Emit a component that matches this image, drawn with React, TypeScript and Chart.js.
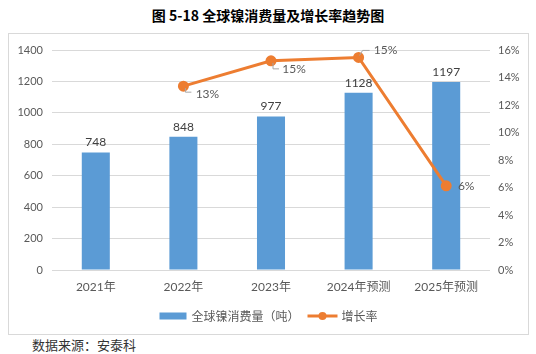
import React, { useEffect, useRef } from "react";
import { Chart, registerables } from "chart.js";

Chart.register(...registerables);

const categories = ["2021年", "2022年", "2023年", "2024年预测", "2025年预测"];
const consumption = [748, 848, 977, 1128, 1197];
const growthRate = [null, 13.37, 15.21, 15.46, 6.12];
const leftTicks = [0, 200, 400, 600, 800, 1000, 1200, 1400];
const rightTicks = [0, 2, 4, 6, 8, 10, 12, 14, 16];
const barLabel = "全球镍消费量（吨）";
const lineLabel = "增长率";
const title = "图 5-18 全球镍消费量及增长率趋势图";
const source = "数据来源：安泰科";

const BAR = "#5B9BD5";
const LINE = "#ED7D31";
const TXT = "#595959";
const FONT = "Lato, 'Noto Sans CJK SC', sans-serif";
const CJK = "'Noto Sans CJK SC', sans-serif";

// label offsets relative to point: [labelDx, labelDy, leader polyline]
const lineLabelPos: [number, number, number[][]][] = [
  [0, 0, []],
  [24, 8, [[2, 2], [2, 6], [8, 6]]],
  [23, 8, [[2, 2], [2, 8], [8, 8]]],
  [27, -7, [[1, -2], [4, -7], [11, -7]]],
  [20, 0, []],
];

const labelsPlugin = {
  id: "customLabels",
  afterDatasetsDraw(chart: any) {
    const ctx = chart.ctx;
    ctx.save();
    const barMeta = chart.getDatasetMeta(0);
    ctx.font = "12px " + FONT;
    ctx.fillStyle = "#404040";
    ctx.textAlign = "center";
    ctx.textBaseline = "middle";
    barMeta.data.forEach((el: any, i: number) => {
      ctx.fillText(String(consumption[i]), el.x, el.y - 10);
    });
    const lineMeta = chart.getDatasetMeta(1);
    lineMeta.data.forEach((el: any, i: number) => {
      const v = growthRate[i];
      if (v == null) return;
      const [dx, dy, leader] = lineLabelPos[i];
      if (leader.length) {
        ctx.strokeStyle = "#a6a6a6";
        ctx.lineWidth = 1;
        ctx.beginPath();
        leader.forEach((p, k) => {
          if (k === 0) ctx.moveTo(el.x + p[0], el.y + p[1]);
          else ctx.lineTo(el.x + p[0], el.y + p[1]);
        });
        ctx.stroke();
      }
      ctx.fillStyle = TXT;
      ctx.fillText(Math.round(v) + "%", el.x + dx, el.y + dy);
    });
    ctx.restore();
  },
  afterDraw(chart: any) {
    const ctx = chart.ctx;
    ctx.save();
    ctx.font = "12px " + CJK;
    ctx.textBaseline = "middle";
    ctx.textAlign = "left";
    const w1 = ctx.measureText(barLabel).width;
    const w2 = ctx.measureText(lineLabel).width;
    const total = 27 + 5 + w1 + 8 + 30 + 4 + w2;
    let x = chart.width / 2 - total / 2;
    const y = 282;
    ctx.fillStyle = BAR;
    ctx.fillRect(x, y - 3.5, 27, 7);
    x += 32;
    ctx.fillStyle = TXT;
    ctx.fillText(barLabel, x, y);
    x += w1 + 8;
    ctx.strokeStyle = LINE;
    ctx.lineWidth = 3;
    ctx.beginPath();
    ctx.moveTo(x, y);
    ctx.lineTo(x + 30, y);
    ctx.stroke();
    ctx.fillStyle = LINE;
    ctx.beginPath();
    ctx.arc(x + 15, y, 4, 0, Math.PI * 2);
    ctx.fill();
    x += 34;
    ctx.fillStyle = TXT;
    ctx.fillText(lineLabel, x, y);
    ctx.restore();
  },
};

export default function App() {
  const ref = useRef<HTMLCanvasElement>(null);
  useEffect(() => {
    if (!ref.current) return;
    const chart = new Chart(ref.current, {
      type: "bar",
      data: {
        labels: categories,
        datasets: [
          {
            type: "bar",
            label: barLabel,
            data: consumption,
            backgroundColor: BAR,
            yAxisID: "y",
            barPercentage: 0.32,
            categoryPercentage: 1,
            order: 2,
          },
          {
            type: "line",
            label: lineLabel,
            data: growthRate as any,
            borderColor: LINE,
            backgroundColor: LINE,
            borderWidth: 3,
            pointRadius: 4,
            pointBackgroundColor: LINE,
            pointBorderColor: LINE,
            yAxisID: "y1",
            order: 1,
            tension: 0,
          },
        ],
      },
      options: {
        responsive: false,
        animation: false,
        devicePixelRatio: 1,
        layout: { padding: { top: 16, bottom: 38, left: 0, right: 0 } },
        plugins: {
          legend: { display: false },
          tooltip: { enabled: false },
          title: { display: false },
        },
        scales: {
          x: {
            grid: { display: false, drawTicks: false },
            border: { display: false },
            ticks: { color: TXT, font: { family: FONT, size: 12 }, padding: 10 },
            afterFit: (s: any) => { s.height = 26; },
          },
          y: {
            position: "left",
            min: 0,
            max: 1400,
            afterBuildTicks: (s: any) => { s.ticks = leftTicks.map((v) => ({ value: v })); },
            grid: { color: "#d9d9d9", drawTicks: false },
            border: { display: false },
            ticks: {
              color: TXT,
              font: { family: FONT, size: 11 },
              padding: 9,
              callback: (v: any) => String(v),
            },
            afterFit: (s: any) => { s.width = 43; },
          },
          y1: {
            position: "right",
            min: 0,
            max: 16,
            afterBuildTicks: (s: any) => { s.ticks = rightTicks.map((v) => ({ value: v })); },
            grid: { display: false, drawTicks: false },
            border: { display: false },
            ticks: {
              color: TXT,
              font: { family: FONT, size: 11 },
              padding: 8,
              callback: (v: any) => v + "%",
            },
            afterFit: (s: any) => { s.width = 38; },
          },
        },
      },
      plugins: [labelsPlugin],
    });
    return () => chart.destroy();
  }, []);

  return (
    <div style={{ position: "fixed", left: 0, top: 0, width: 536, height: 354, background: "#fff" }}>
      <div
        style={{
          position: "absolute",
          left: 0,
          top: 5,
          width: 536,
          textAlign: "center",
          fontFamily: "'Noto Sans CJK SC', sans-serif",
          fontWeight: "bold",
          fontSize: 14,
          lineHeight: "20px",
          color: "#000",
        }}
      >
        {title}
      </div>
      <div
        style={{
          position: "absolute",
          left: 8,
          top: 33,
          width: 521,
          height: 302,
          border: "1px solid #d9d9d9",
          boxSizing: "border-box",
        }}
      />
      <canvas
        ref={ref}
        width={519}
        height={300}
        style={{ position: "absolute", left: 9, top: 34, width: 519, height: 300 }}
      />
      <div
        style={{
          position: "absolute",
          left: 32,
          top: 336,
          fontFamily: "'Noto Sans CJK SC', sans-serif",
          fontSize: 13,
          lineHeight: "18px",
          color: "#333",
        }}
      >
        {source}
      </div>
    </div>
  );
}
